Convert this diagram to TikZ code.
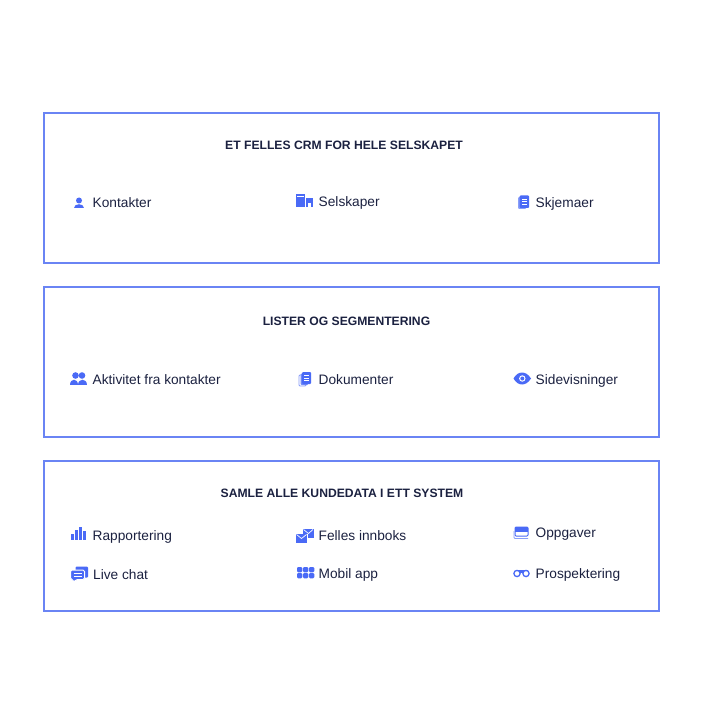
\documentclass[tikz,border=0pt]{standalone}
\usepackage{fontspec}
\setmainfont{Liberation Sans}
\definecolor{ink}{HTML}{1B2140}
\definecolor{framec}{HTML}{6A84F4}
\definecolor{iconc}{HTML}{4A6AF6}
\tikzset{
  panel/.style={draw=framec,line width=1.5pt,fill=white,outer sep=0pt,inner sep=0pt,minimum width=615pt,minimum height=150pt,anchor=north west},
  heading/.style={text=ink,anchor=base,inner sep=0pt,font=\fontsize{12.15}{15}\selectfont\bfseries},
  item/.style={text=ink,anchor=base west,inner sep=0pt,font=\fontsize{13.7}{16}\selectfont},
  ic/.style={fill=iconc,draw=none},
  hole/.style={fill=white,draw=none}
}
\begin{document}
\begin{tikzpicture}[x=1pt,y=-1pt]
\useasboundingbox (0,0) rectangle (703,703);
\node[panel] (p1) at (44,113) {};
\node[panel] (p2) at (44,287) {};
\node[panel] (p3) at (44,461) {};
\node[heading] (t1) at (344,149.5) {ET FELLES CRM FOR HELE SELSKAPET};
\node[heading] (t2) at (346.5,325.5) {LISTER OG SEGMENTERING};
\node[heading] (t3) at (342,497.5) {SAMLE ALLE KUNDEDATA I ETT SYSTEM};
\node[item] (a1) at (92.5,207.5) {Kontakter};
\node[item] (a2) at (318.5,206.5) {Selskaper};
\node[item] (a3) at (535.5,207.5) {Skjemaer};
\node[item] (b1) at (92.5,384.5) {Aktivitet fra kontakter};
\node[item] (b2) at (318.5,384.5) {Dokumenter};
\node[item] (b3) at (535.5,384.5) {Sidevisninger};
\node[item] (c1) at (92.5,540) {Rapportering};
\node[item] (c2) at (318.5,540) {Felles innboks};
\node[item] (c3) at (535.5,537) {Oppgaver};
\node[item] (d1) at (93,579) {Live chat};
\node[item] (d2) at (318.5,578) {Mobil app};
\node[item] (d3) at (535.5,578) {Prospektering};
% person
\fill[ic] (79,200.5) circle (3);
\fill[ic] (74,208.3) .. controls (74,203.5) and (84,203.5) .. (84,208.3) -- cycle;
% buildings
\fill[ic] (296,194.5) rectangle (304.5,207);
\fill[ic] (305.5,198.5) rectangle (312.5,207);
\fill[hole] (307.8,203.5) rectangle (310.5,207);
\fill[hole] (297,196.3) rectangle (303.5,197.3);
% form
\fill[iconc!65,rounded corners=1pt] (518,197) rectangle (526,209);
\fill[ic,rounded corners=1pt] (519.5,195.5) rectangle (529,208);
\draw[white,line width=.8pt] (521.8,199) -- (526.8,199) (521.8,201.5) -- (526.8,201.5) (521.8,204) -- (526.8,204);
% two people
\fill[ic] (75.5,375.5) circle (3.3);
\fill[ic] (82,375.5) circle (3.3);
\fill[ic] (70,385) .. controls (70,378) and (78.3,378) .. (78.3,385) -- cycle;
\fill[ic] (78.3,385) .. controls (78.3,378) and (87,378) .. (87,385) -- cycle;
% documents
\draw[iconc!65,line width=.8pt,rounded corners=1pt] (299,375) rectangle (306,386);
\fill[iconc!80,rounded corners=1pt] (300.5,373.5) rectangle (308,385);
\fill[ic,rounded corners=1pt] (302,372) rectangle (311,384);
\draw[white,line width=.8pt] (304,375.5) -- (309,375.5) (304,378) -- (309,378) (304,380.5) -- (309,380.5);
% eye
\fill[ic] (513.5,378.5) .. controls (518,370.5) and (526,370.5) .. (531,378.5) .. controls (526,386.5) and (518,386.5) .. (513.5,378.5) -- cycle;
\fill[hole] (522.3,378.5) circle (3.2);
\fill[ic] (522.3,378.5) circle (2);
% bars
\fill[ic] (71,533.5) rectangle (74,540);
\fill[ic] (75,530) rectangle (78,540);
\fill[ic] (79,526.5) rectangle (82,540);
\fill[ic] (83,530.5) rectangle (86,540);
% chat
\fill[ic,rounded corners=1pt] (75.5,566.5) rectangle (88,577.5);
\draw[white,line width=1pt,fill=iconc,rounded corners=1.5pt] (70.5,570) -- (84.5,570) -- (84.5,579.5) -- (76,579.5) -- (73.5,583) -- (73.5,579.5) -- (70.5,579.5) -- cycle;
\draw[white,line width=.7pt] (73.5,573.5) -- (81.5,573.5) (73.5,576) -- (81.5,576);
% mail
\fill[ic] (296,533.5) rectangle (307,542.5);
\fill[ic] (303,528.5) rectangle (313.5,538);
\draw[white,line width=.7pt] (303.5,529.5) -- (308.5,533.5) -- (313,529.5);
\draw[white,line width=.7pt] (296.5,534.5) -- (301.5,538.5) -- (306.5,534.5);
\draw[white,line width=.7pt] (302.5,533) -- (302.5,534) (307.3,534) -- (307.3,538);
% grid
\foreach \x in {297,303,309} \foreach \y in {567,573}
  \fill[ic,rounded corners=1.2pt] (\x,\y) rectangle ++(5.3,5.3);
% task window
\fill[ic] (515,527) rectangle (528,531.5);
\draw[iconc,line width=1pt,rounded corners=1pt] (515,527) rectangle (528,536);
\draw[iconc!65,line width=.8pt,rounded corners=1pt] (514,531) -- (514,538.5) -- (528,538.5);
% binoculars
\draw[iconc,line width=1.3pt] (517,573.5) circle (3.1);
\draw[iconc,line width=1.3pt] (526,573.5) circle (3.1);
\fill[ic] (516,569.5) rectangle (527.5,571);
\fill[ic] (520,570.5) rectangle (523,572.8);
\end{tikzpicture}
\end{document}
